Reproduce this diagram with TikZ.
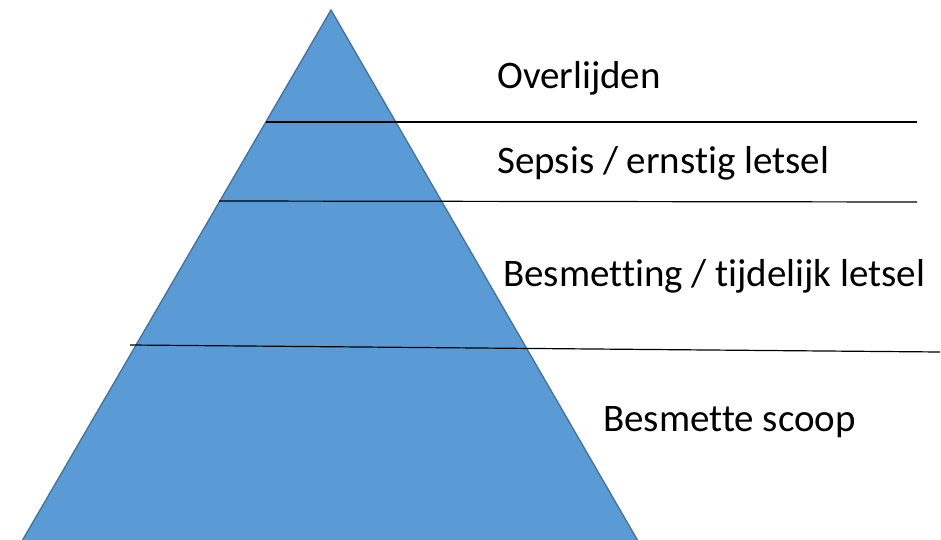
\documentclass[tikz,border=0pt]{standalone}
\usepackage{fontspec}
\setmainfont[Ligatures=NoCommon]{Carlito}
\definecolor{pyrfill}{HTML}{5B9BD5}
\definecolor{pyredge}{HTML}{41719C}
\begin{document}
\begin{tikzpicture}[x=1pt,y=-1pt,
  lbl/.style={anchor=base west,inner sep=0pt,font=\fontsize{39}{47}\selectfont},
  sep/.style={draw=black,line width=1.2pt}]
\useasboundingbox (0,0) rectangle (941,540);
\coordinate (apex) at (331,10);
\coordinate (bl) at (22,541);
\coordinate (br) at (638,541);
\filldraw[fill=pyrfill,draw=pyredge,line width=1.3pt] (apex) -- (br) -- (bl) -- cycle;
\coordinate (a1) at (266,122); \coordinate (b1) at (917,122);
\coordinate (a2) at (219,201); \coordinate (b2) at (917,202);
\coordinate (a3) at (130,345); \coordinate (b3) at (940,352);
\draw[sep] (a1) -- (b1);
\draw[sep] (a2) -- (b2);
\draw[sep] (a3) -- (b3);
\node[lbl] (t1) at (497,89) {Overlijden};
\node[lbl] (t2) at (497,173) {Sepsis / ernstig letsel};
\node[lbl] (t3) at (503,286) {Besmetting / tijdelijk letsel};
\node[lbl] (t4) at (603,431) {Besmette scoop};
\end{tikzpicture}
\end{document}
